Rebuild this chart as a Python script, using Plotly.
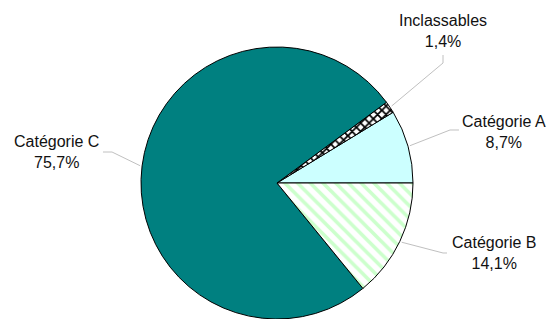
import math
import plotly.graph_objects as go

labels = ["Catégorie A", "Inclassables", "Catégorie C", "Catégorie B"]
values = [8.7, 1.4, 75.7, 14.1]
value_text = ["8,7%", "1,4%", "75,7%", "14,1%"]

W, H = 551, 319
cx, cy, R = 277, 183, 136

colors = ["#ccffff", "#ffffff", "#008080", "#ffffff"]
shapes_pat = ["", "x", "", "\\"]
fg = ["#ccffff", "#000000", "#008080", "#ccffcc"]

total = sum(values)
fig = go.Figure(go.Pie(
    labels=labels, values=values, sort=False, direction="counterclockwise",
    rotation=90 - values[0] / total * 360, textinfo="none", hoverinfo="label+percent",
    marker=dict(colors=colors, line=dict(color="#000000", width=1),
                pattern=dict(shape=shapes_pat, fgcolor=fg, bgcolor=colors,
                             size=[8, 6, 8, 9], solidity=[0.3, 0.5, 0.3, 0.4])),
    domain=dict(x=[(cx - R) / W, (cx + R) / W], y=[max(0, 1 - (cy + R) / H), 1 - (cy - R) / H]),
    showlegend=False,
))

# label block centres and leader-line elbows (pixels)
label_pos = [(504, 132), (443, 31), (56, 152), (494, 253)]
elbows = [[(450, 130), (459, 130)], [(443, 63), (443, 55)],
          [(112, 152), (103, 152)], [(443, 253), (447, 253)]]

def px2paper(x, y):
    return x / W, 1 - y / H

start = 0.0
annotations = []
shapes = []
for i, v in enumerate(values):
    mid = (start + v / 2) / total * 2 * math.pi
    start += v
    ex = cx + (R + 2) * math.cos(mid)
    ey = cy - (R + 2) * math.sin(mid)
    pts = [(ex, ey)] + elbows[i]
    path = "M " + " L ".join(f"{px2paper(x, y)[0]:.4f},{px2paper(x, y)[1]:.4f}" for x, y in pts)
    shapes.append(dict(type="path", xref="paper", yref="paper", path=path,
                       line=dict(color="#c0c0c0", width=1)))
    ax, ay = px2paper(*label_pos[i])
    annotations.append(dict(x=ax, y=ay, xref="paper", yref="paper", showarrow=False,
                            text=f"{labels[i]}<br>{value_text[i]}", align="center",
                            font=dict(family="Liberation Sans, Arial", size=16, color="#111111"),
                            xanchor="center", yanchor="middle"))

fig.update_layout(width=W, height=H, margin=dict(l=0, r=0, t=0, b=0),
                  paper_bgcolor="white", plot_bgcolor="white",
                  annotations=annotations, shapes=shapes)
fig.write_html("out.html", config={"displayModeBar": False},
               post_script="document.body.style.margin='0';document.body.style.overflow='hidden';")
